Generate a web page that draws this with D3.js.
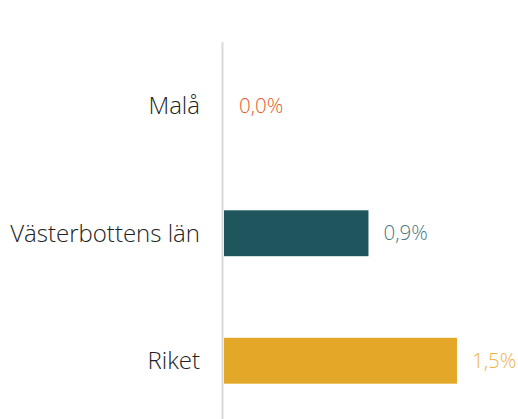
<!DOCTYPE html>
<meta charset="utf-8">
<style>
body { margin: 0; background: #fff; }
text { font-family: "Open Sans", sans-serif; font-weight: 300; }
.cat { fill: #222; font-size: 24px; }
.val { font-size: 20.5px; }
</style>
<body></body>
<script src="https://d3js.org/d3.v7.min.js"></script>
<script>

var categories = ["Malå", "Västerbottens län", "Riket"];
var values = [0.0, 0.93, 1.5];
var valueLabels = ["0,0%", "0,9%", "1,5%"];
var barColors = ["#e8643a", "#1f565e", "#e3a827"];
var labelColors = ["#e35a2a", "#4a777e", "#eeb33f"];

var width = 518,
    height = 419;

var svg = d3.select("body").append("svg")
    .attr("width", width)
    .attr("height", height);

var x = d3.scaleLinear()
    .domain([0, 1.5])
    .range([224, 457]);

var y = d3.scaleBand()
    .domain(categories)
    .range([42, 424.5])
    .paddingInner(0.64)
    .paddingOuter(0.32);

svg.append("line")
    .attr("x1", 222.5).attr("x2", 222.5)
    .attr("y1", 42).attr("y2", height)
    .attr("stroke", "#d9d9d9")
    .attr("stroke-width", 2);

svg.selectAll("rect.bar")
  .data(categories)
  .enter().append("rect")
    .attr("class", "bar")
    .attr("x", x(0))
    .attr("y", function(d) { return y(d); })
    .attr("width", function(d, i) { return x(values[i]) - x(0); })
    .attr("height", y.bandwidth())
    .attr("fill", function(d, i) { return barColors[i]; });

svg.selectAll("text.cat")
  .data(categories)
  .enter().append("text")
    .attr("class", "cat")
    .attr("x", 200)
    .attr("y", function(d) { return y(d) + y.bandwidth() / 2; })
    .attr("dy", "0.35em")
    .attr("text-anchor", "end")
    .text(function(d) { return d; });

svg.selectAll("text.val")
  .data(categories)
  .enter().append("text")
    .attr("class", "val")
    .attr("x", function(d, i) { return x(values[i]) + 15; })
    .attr("y", function(d) { return y(d) + y.bandwidth() / 2; })
    .attr("dy", "0.35em")
    .attr("fill", function(d, i) { return labelColors[i]; })
    .text(function(d, i) { return valueLabels[i]; });

</script>
